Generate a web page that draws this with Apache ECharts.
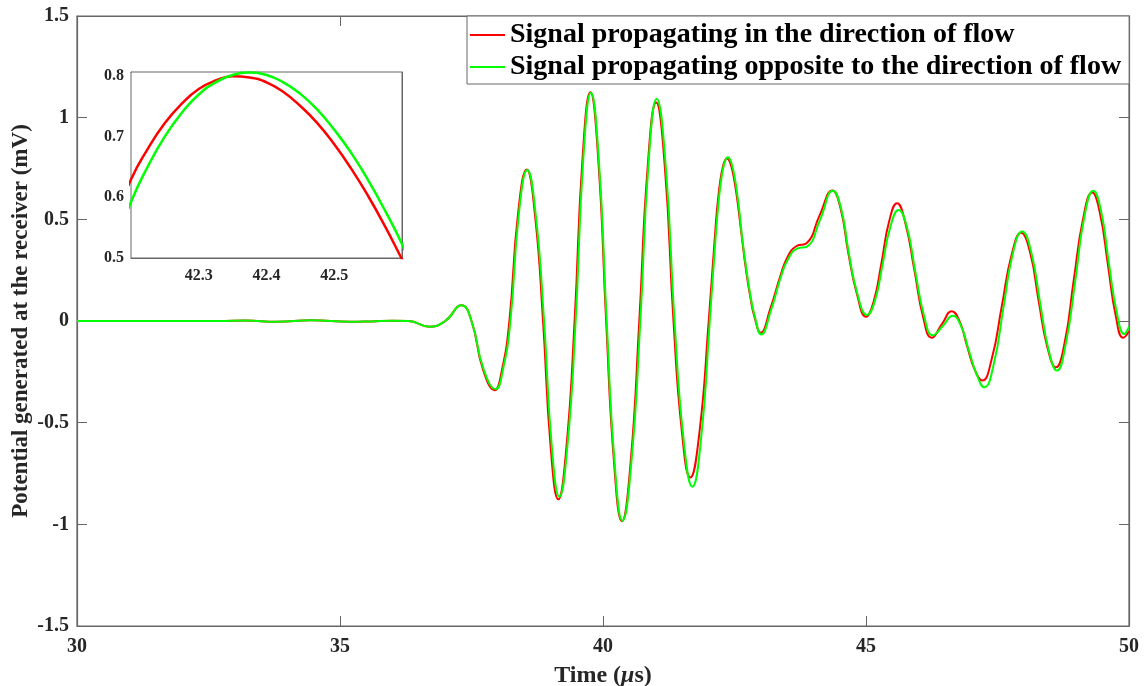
<!DOCTYPE html>
<html>
<head>
<meta charset="utf-8">
<script src="https://cdn.jsdelivr.net/npm/echarts@6/dist/echarts.min.js"></script>
<style>html,body{margin:0;padding:0;background:#fff;}#c{width:1148px;height:686px;}</style>
</head>
<body>
<div id="c"></div>
<script>
// Time (µs) and potential (mV)
const redT = [30, 31, 32, 32.7, 33.2, 33.8, 34.45, 35.2, 35.6, 36.0, 36.3, 36.7, 37.0, 37.31, 37.5, 37.72, 37.94, 38.08, 38.22, 38.385, 38.55, 38.705, 38.86, 39.005, 39.15, 39.305, 39.46, 39.61, 39.76, 39.91, 40.06, 40.21, 40.36, 40.525, 40.69, 40.85, 41.01, 41.175, 41.34, 41.5, 41.66, 41.835, 42.01, 42.15,
  42.2, 42.225, 42.25, 42.275, 42.3, 42.325, 42.35, 42.375, 42.4, 42.425, 42.45, 42.475, 42.5, 42.525, 42.55, 42.575, 42.6,
  42.65, 42.72, 42.8, 42.88, 43.0, 43.18, 43.37, 43.5, 43.68, 43.87, 44.12, 44.36, 44.52, 44.66, 44.83, 45.0, 45.15, 45.29, 45.44, 45.59, 45.75, 45.92, 46.09, 46.25, 46.44, 46.63, 46.78, 46.92, 47.07, 47.21, 47.39, 47.58, 47.77, 47.95, 48.12, 48.28, 48.45, 48.61, 48.78, 48.95, 49.13, 49.3, 49.45, 49.6, 49.75, 49.89, 50];
const redV = [0, 0, 0, 0, 0.002, -0.004, 0.004, -0.004, -0.002, 0.001, 0, -0.028, 0.0, 0.077, 0.0, -0.24, -0.34, -0.24, 0.0, 0.527, 0.745, 0.527, 0.0, -0.62, -0.877, -0.62, 0.0, 0.795, 1.125, 0.795, 0.0, -0.696, -0.985, -0.696, 0.0, 0.76, 1.075, 0.76, 0.0, -0.544, -0.77, -0.544, 0.0, 0.495,
  0.629, 0.680, 0.722, 0.754, 0.778, 0.792, 0.799, 0.797, 0.789, 0.773, 0.750, 0.722, 0.687, 0.647, 0.602, 0.552, 0.498,
  0.39, 0.25, 0.12, 0.02, -0.058, 0.06, 0.22, 0.31, 0.369, 0.382, 0.521, 0.642, 0.55, 0.34, 0.13, 0.021, 0.1, 0.28, 0.49, 0.579, 0.48, 0.25, 0.015, -0.082, -0.017, 0.048, -0.002, -0.122, -0.242, -0.293, -0.187, 0.07, 0.327, 0.434, 0.337, 0.103, -0.131, -0.228, -0.102, 0.202, 0.506, 0.632, 0.527, 0.275, 0.023, -0.082, -0.05];
const greenT = [30, 31, 32, 32.7, 33.2, 33.8, 34.45, 35.2, 35.6, 36.0, 36.3, 36.7, 37.0, 37.31, 37.5, 37.73, 37.96, 38.1, 38.24, 38.4, 38.56, 38.72, 38.88, 39.025, 39.17, 39.325, 39.48, 39.625, 39.77, 39.92, 40.07, 40.22, 40.37, 40.54, 40.71, 40.865, 41.02, 41.19, 41.36, 41.53, 41.7, 41.865, 42.03, 42.15,
  42.2, 42.225, 42.25, 42.275, 42.3, 42.325, 42.35, 42.375, 42.4, 42.425, 42.45, 42.475, 42.5, 42.525, 42.55, 42.575, 42.6,
  42.65, 42.72, 42.8, 42.88, 43.01, 43.19, 43.38, 43.51, 43.7, 43.88, 44.13, 44.37, 44.53, 44.67, 44.84, 45.02, 45.17, 45.31, 45.46, 45.62, 45.78, 45.94, 46.11, 46.27, 46.46, 46.65, 46.8, 46.95, 47.1, 47.25, 47.43, 47.61, 47.79, 47.97, 48.14, 48.31, 48.47, 48.63, 48.8, 48.98, 49.15, 49.32, 49.47, 49.62, 49.77, 49.91, 50];
const greenV = [0, 0, 0, 0, 0.002, -0.004, 0.004, -0.004, -0.002, 0.001, 0, -0.028, 0.0, 0.077, 0.0, -0.237, -0.335, -0.237, 0.0, 0.525, 0.743, 0.525, 0.0, -0.611, -0.864, -0.611, 0.0, 0.794, 1.123, 0.794, 0.0, -0.694, -0.982, -0.694, 0.0, 0.772, 1.092, 0.772, 0.0, -0.576, -0.815, -0.576, 0.0, 0.443,
  0.592, 0.651, 0.700, 0.739, 0.769, 0.789, 0.801, 0.805, 0.801, 0.789, 0.770, 0.744, 0.711, 0.673, 0.628, 0.578, 0.523,
  0.40, 0.265, 0.13, 0.03, -0.066, 0.05, 0.215, 0.3, 0.357, 0.366, 0.5, 0.641, 0.55, 0.34, 0.13, 0.03, 0.1, 0.27, 0.46, 0.546, 0.46, 0.24, 0.02, -0.07, -0.025, 0.026, -0.02, -0.14, -0.26, -0.326, -0.21, 0.06, 0.33, 0.44, 0.34, 0.09, -0.14, -0.244, -0.11, 0.2, 0.51, 0.64, 0.54, 0.28, 0.04, -0.064, -0.028];
const xTicks = [30, 35, 40, 45, 50];
const yTicks = [-1.5, -1, -0.5, 0, 0.5, 1, 1.5];
const insetX = [42.2, 42.6];
const insetY = [0.5, 0.806];
const seriesNames = ['Signal propagating in the direction of flow', 'Signal propagating opposite to the direction of flow'];

const zip = (t, v) => t.map((x, i) => [x, v[i]]);
const redData = zip(redT, redV);
const greenData = zip(greenT, greenV);

const FONT = '"Liberation Serif", "Times New Roman", serif';
const AX = '#666666';
const TXT = '#262626';

function mainAxis(pos, showLabel, extra) {
  return Object.assign({
    type: 'value', gridIndex: 0, position: pos,
    axisLine: { show: true, onZero: false, lineStyle: { color: AX, width: 1.2 } },
    axisTick: { show: true, inside: true, length: 10, lineStyle: { color: AX } },
    axisLabel: { show: showLabel },
    splitLine: { show: false }
  }, extra);
}
function insetAxis(pos, showLabel, extra) {
  return Object.assign({
    type: 'value', gridIndex: 1, position: pos,
    axisLine: { show: true, onZero: false, lineStyle: { color: AX, width: 1 } },
    axisTick: { show: true, inside: true, length: 4, lineStyle: { color: AX } },
    axisLabel: { show: showLabel },
    splitLine: { show: false }
  }, extra);
}
const tickFont = { color: TXT, fontFamily: FONT, fontWeight: 'bold', fontSize: 20 };
const insetFont = { color: TXT, fontFamily: FONT, fontWeight: 'bold', fontSize: 16 };

const chart = echarts.init(document.getElementById('c'), null, { renderer: 'canvas' });
chart.setOption({
  animation: false,
  backgroundColor: '#ffffff',
  grid: [
    { left: 77, right: 19, top: 16, bottom: 60, show: true, borderColor: AX, borderWidth: 1.2, backgroundColor: 'transparent', outerBoundsMode: 'none', containLabel: false },
    { left: 131, top: 72, width: 271, height: 186, show: true, borderColor: AX, borderWidth: 1, backgroundColor: '#ffffff', z: 5, outerBoundsMode: 'none', containLabel: false }
  ],
  legend: {
    data: seriesNames,
    orient: 'vertical',
    left: 467, top: 16,
    padding: [4, 8, 2, 3],
    icon: 'rect',
    itemWidth: 35, itemHeight: 2, itemGap: 2,
    backgroundColor: '#ffffff', borderColor: AX, borderWidth: 1,
    textStyle: { fontFamily: FONT, fontWeight: 'bold', fontSize: 28, color: '#000', lineHeight: 30 }
  },
  xAxis: [
    mainAxis('bottom', true, { min: xTicks[0], max: xTicks[xTicks.length - 1], interval: xTicks[1] - xTicks[0],
      axisLabel: Object.assign({ margin: 11 }, tickFont),
      name: '{a|Time (}{b|\u03bc}{a|s)}', nameLocation: 'middle', nameGap: 38,
      nameTextStyle: { rich: {
        a: { fontFamily: FONT, fontWeight: 'bold', fontSize: 24, color: TXT },
        b: { fontFamily: FONT, fontWeight: 'bold', fontStyle: 'italic', fontSize: 24, color: TXT } } } }),
    mainAxis('top', false, { min: xTicks[0], max: xTicks[xTicks.length - 1], interval: xTicks[1] - xTicks[0] }),
    insetAxis('bottom', true, { min: insetX[0], max: insetX[1], interval: 0.1,
      axisLabel: Object.assign({ margin: 10, showMinLabel: false, showMaxLabel: false }, insetFont) }),
    insetAxis('top', false, { min: insetX[0], max: insetX[1], interval: 0.1 })
  ],
  yAxis: [
    mainAxis('left', true, { min: yTicks[0], max: yTicks[yTicks.length - 1], interval: yTicks[1] - yTicks[0],
      axisLabel: Object.assign({ margin: 8 }, tickFont),
      name: 'Potential generated at the receiver (mV)', nameLocation: 'middle', nameGap: 44, nameMoveOverlap: false,
      nameTextStyle: { fontFamily: FONT, fontWeight: 'bold', fontSize: 23, color: TXT } }),
    mainAxis('right', false, { min: yTicks[0], max: yTicks[yTicks.length - 1], interval: yTicks[1] - yTicks[0] }),
    insetAxis('left', true, { min: insetY[0], max: insetY[1], interval: 0.1,
      axisLabel: Object.assign({ margin: 7, showMinLabel: true, showMaxLabel: false }, insetFont) }),
    insetAxis('right', false, { min: insetY[0], max: insetY[1], interval: 0.1 })
  ],
  series: [
    { name: seriesNames[0], type: 'line', xAxisIndex: 0, yAxisIndex: 0, data: redData, smooth: 0.5, symbol: 'none', lineStyle: { color: '#ff0000', width: 2 }, itemStyle: { color: '#ff0000' } },
    { name: seriesNames[1], type: 'line', xAxisIndex: 0, yAxisIndex: 0, data: greenData, smooth: 0.5, symbol: 'none', lineStyle: { color: '#00ff00', width: 2 }, itemStyle: { color: '#00ff00' } },
    { name: seriesNames[0], type: 'line', xAxisIndex: 2, yAxisIndex: 2, data: redData, smooth: 0.5, symbol: 'none', z: 6, lineStyle: { color: '#ff0000', width: 2.5 }, itemStyle: { color: '#ff0000' } },
    { name: seriesNames[1], type: 'line', xAxisIndex: 2, yAxisIndex: 2, data: greenData, smooth: 0.5, symbol: 'none', z: 6, lineStyle: { color: '#00ff00', width: 2.5 }, itemStyle: { color: '#00ff00' } }
  ]
});
</script>
</body>
</html>
